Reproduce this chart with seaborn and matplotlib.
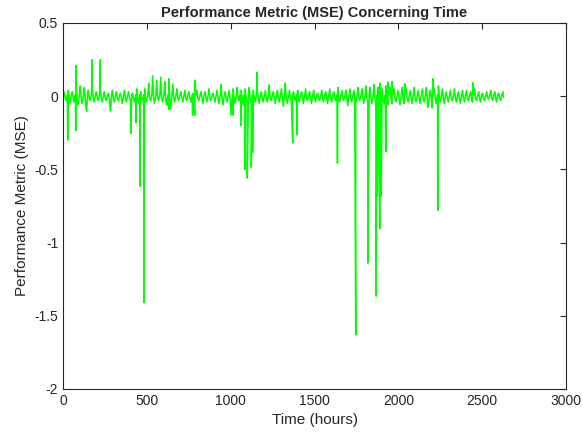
import numpy as np
import pandas as pd
import matplotlib
matplotlib.use('Agg')
import matplotlib.pyplot as plt
import seaborn as sns

#%% data

# one high and one low value per day (110 days)
day_high = [0.03, 0.04, 0.03, 0.09, 0.07, 0.06, 0.04, 0.05, 0.03, 0.04,
            0.03, 0.02, 0.04, 0.03, 0.02, 0.04, 0.03, 0.02, 0.05, 0.03,
            0.05, 0.09, 0.14, 0.11, 0.13, 0.10, 0.12, 0.08, 0.05, 0.03,
            0.04, 0.03, 0.02, 0.04, 0.03, 0.03, 0.05, 0.02, 0.04, 0.03,
            0.03, 0.04, 0.05, 0.06, 0.04, 0.05, 0.06, 0.04, 0.05, 0.03,
            0.04, 0.05, 0.03, 0.04, 0.05, 0.06, 0.04, 0.03, 0.04, 0.03,
            0.05, 0.03, 0.04, 0.02, 0.04, 0.03, 0.05, 0.03, 0.06, 0.04,
            0.04, 0.05, 0.04, 0.06, 0.05, 0.07, 0.06, 0.08, 0.06, 0.05,
            0.07, 0.06, 0.05, 0.04, 0.06, 0.05, 0.04, 0.06, 0.04, 0.05,
            0.06, 0.04, 0.05, 0.07, 0.05, 0.03, 0.04, 0.05, 0.03, 0.04,
            0.04, 0.03, 0.05, 0.03, 0.02, 0.03, 0.04, 0.03, 0.02, 0.03]

day_low = [-0.03, -0.05, -0.04, -0.06, -0.05, -0.09, -0.03, -0.04, -0.03, -0.04,
           -0.03, -0.10, -0.04, -0.03, -0.05, -0.04, -0.03, -0.04, -0.05, -0.03,
           -0.04, -0.03, -0.05, -0.03, -0.04, -0.06, -0.09, -0.04, -0.03, -0.04,
           -0.03, -0.04, -0.13, -0.03, -0.05, -0.04, -0.03, -0.04, -0.05, -0.06,
           -0.04, -0.13, -0.05, -0.03, -0.06, -0.04, -0.05, -0.04, -0.05, -0.04,
           -0.04, -0.03, -0.05, -0.04, -0.07, -0.05, -0.04, -0.03, -0.04, -0.05,
           -0.03, -0.05, -0.04, -0.03, -0.04, -0.05, -0.04, -0.03, -0.04, -0.03,
           -0.065, -0.04, -0.05, -0.03, -0.05, -0.04, -0.05, -0.06, -0.04, -0.05,
           -0.06, -0.05, -0.04, -0.06, -0.05, -0.04, -0.05, -0.04, -0.05, -0.04,
           -0.075, -0.08, -0.05, -0.04, -0.05, -0.04, -0.03, -0.04, -0.05, -0.04,
           -0.03, -0.04, -0.03, -0.04, -0.03, -0.02, -0.03, -0.04, -0.03, -0.04]

# level between the daily bars
baseline = [0.01, -0.01]

# single-hour spikes
spike_hours = [28, 76, 78, 141, 175, 223, 284, 404, 435, 459, 483, 630, 773, 787,
               943, 1014, 1062, 1085, 1099, 1123, 1131, 1157, 1229, 1324, 1370,
               1396, 1637, 1697, 1746, 1818, 1867, 1875, 1889, 1891, 1898, 1925,
               1939, 1963, 2038, 2175, 2206, 2235, 2443]
spike_values = [-0.30, -0.235, 0.21, -0.105, 0.25, 0.25, -0.10, -0.255, -0.18, -0.615,
                -1.41, -0.09, -0.13, 0.11, 0.08, -0.13, -0.20, -0.50, -0.56, -0.485,
                -0.385, 0.165, 0.076, 0.09, -0.32, -0.265, -0.457, -0.065, -1.63,
                -1.14, -1.365, -0.68, -0.905, 0.09, -0.68, -0.38, 0.095, 0.10, 0.085,
                -0.075, 0.12, -0.78, 0.094]

#%% build the series

hours = []
mse = []
for d in range(len(day_high)):
    hours += [d * 24 + 2, d * 24 + 7, d * 24 + 12, d * 24 + 18]
    mse += [baseline[0], day_high[d], baseline[1], day_low[d]]
hours += spike_hours
mse += spike_values

df = pd.DataFrame({'hours': hours, 'mse': mse}).sort_values('hours')
df = df[df.hours <= 2630]

#%% plot

sns.set_style('white')
plt.rcParams['font.family'] = ['Liberation Sans', 'DejaVu Sans']

fig = plt.figure(figsize=(5.82, 4.38), dpi=100)
ax = fig.add_axes([63/582, 1-389/438, (566-63)/582, (389-23)/438])

sns.lineplot(data=df, x='hours', y='mse', color='#00ff00', linewidth=1.1,
             estimator=None, sort=False, ax=ax)

ax.set_xlim(0, 3000)
ax.set_ylim(-2, 0.5)
ax.set_xticks([0, 500, 1000, 1500, 2000, 2500, 3000])
ax.set_yticks([-2, -1.5, -1, -0.5, 0, 0.5])
ax.set_yticklabels(['-2', '-1.5', '-1', '-0.5', '0', '0.5'])
ax.tick_params(direction='in', length=4, width=0.8, top=True, right=True,
               labelsize=10, colors='#262626')
for s in ax.spines.values():
    s.set_color('#262626')
    s.set_linewidth(0.8)

ax.set_xlabel('Time (hours)', fontsize=11, color='#262626')
ax.set_ylabel('Performance Metric (MSE)', fontsize=11, color='#262626')
ax.set_title('Performance Metric (MSE) Concerning Time', fontsize=10.5,
             fontweight='bold', pad=4)

fig.savefig('out.png', dpi=100)
